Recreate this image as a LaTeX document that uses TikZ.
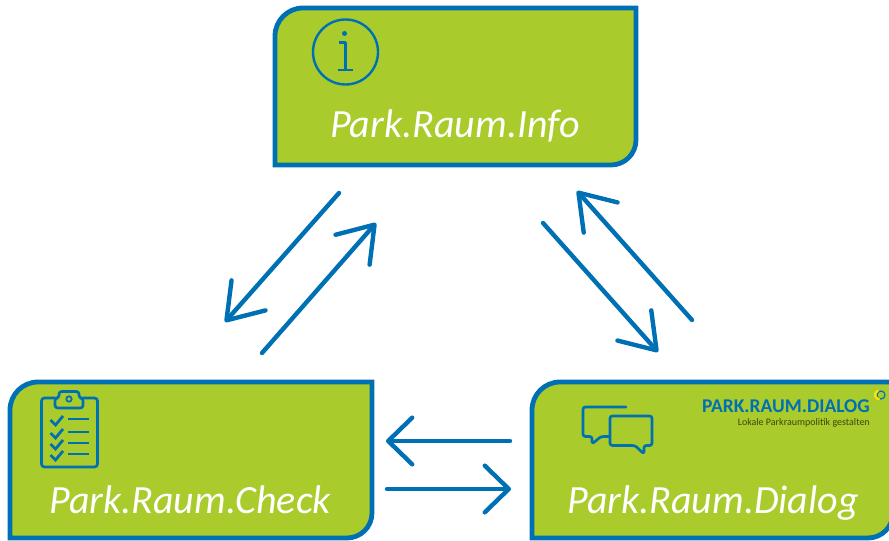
\documentclass[tikz,border=0pt]{standalone}
\usepackage{fontspec}
\setmainfont{Carlito}
\usetikzlibrary{arrows.meta}
\definecolor{grn}{HTML}{A9CB2B}
\definecolor{blu}{HTML}{0070B4}
\tikzset{
  x=0.75pt,y=-0.75pt,
  boxshape/.style={draw=blu,fill=grn,line width=3.6pt,line join=miter},
  title/.style={text=white,font=\fontsize{30}{32}\selectfont\itshape,inner sep=0pt,anchor=base},
  conn/.style={draw=blu,line width=3.3pt,line cap=round,-{Straight Barb[round,length=25pt,width=34pt,line width=3.3pt]}},
  connh/.style={draw=blu,line width=3.3pt,line cap=round,-{Straight Barb[round,length=18pt,width=35pt,line width=3.3pt]}},
  icon/.style={draw=blu,line width=2pt,line join=round,line cap=round},
  iconthin/.style={draw=blu,line width=1.8pt,line join=round},
}
\newcommand{\tlbrbox}[4]{%
  \draw[boxshape] (#1+28,#2) -- (#3,#2) -- (#3,#4-25) arc[start angle=0,end angle=-90,radius=25*0.75pt] -- (#1,#4) -- (#1,#2+28) arc[start angle=180,end angle=90,radius=28*0.75pt] -- cycle;}
\begin{document}
\begin{tikzpicture}
\useasboundingbox (0,0) rectangle (889,541);
\begin{scope}
\clip (0,0) rectangle (889,541);
\tlbrbox{275}{8}{636}{165}
\tlbrbox{10}{382}{372}{538}
\tlbrbox{532}{382}{893}{538}
% info icon
\draw[iconthin] (345.5,52) circle[radius=32.5*0.75pt];
\fill[blu] (344.5,33.5) circle[radius=2.5*0.75pt];
\draw[iconthin] (339,42.5) -- (345.5,42.5) -- (345.5,70);
\draw[iconthin] (338,70) -- (353,70);
% clipboard icon
\draw[icon,rounded corners=2.2pt] (55,398) -- (41.5,398) -- (41.5,467) -- (97.5,467) -- (97.5,398) -- (83,398);
\draw[icon,rounded corners=2pt] (55,408) -- (55,398) -- (59,398) -- (59,391.5) -- (79,391.5) -- (79,398) -- (83,398) -- (83,408) -- cycle;
\draw[blu,line width=1.3pt] (69,399) circle[radius=2.7*0.75pt];
\foreach \yy in {419,432,443,454}{
  \draw[blu,line width=2.1pt] (50.5,\yy+1) -- (55.5,\yy+6) -- (63,\yy-3);
  \draw[blu,line width=2.1pt] (68,\yy) -- (89,\yy);
}
% speech icon
\draw[icon,rounded corners=1.8pt] (626,407) -- (583,407) -- (583,436.5) -- (592,436.5) -- (592,444) -- (601,436.5) -- (609,436.5);
\draw[icon,fill=grn,rounded corners=1.8pt] (610,416) -- (652,416) -- (652,445.5) -- (644,445.5) -- (644,454) -- (635,445.5) -- (610,445.5) -- cycle;
% logo
\node[inner sep=0pt,anchor=base east,text=blu,font=\fontsize{14.6}{15}\selectfont\bfseries] (logo) at (870,413) {PARK.RAUM.DIALOG};
\node[inner sep=0pt,anchor=base east,text=black!65!grn,font=\fontsize{7.5}{8}\selectfont] (logosub) at (870,426) {Lokale Parkraumpolitik gestalten};
\draw[blu,line width=0.9pt] (881,395) circle[radius=4*0.75pt];
\draw[yellow!85!orange,line width=1.8pt] (878,390.5) arc[start angle=110,end angle=270,radius=4.5*0.75pt];
% titles
\node[title] (tinfo) at (455,138) {Park.Raum.Info};
\node[title] (tcheck) at (190,513) {Park.Raum.Check};
\node[title] (tdialog) at (713,513) {Park.Raum.Dialog};
\end{scope}
% connector ends
\coordinate (a1) at (339,193); \coordinate (a2) at (225,322);
\coordinate (b1) at (262,353); \coordinate (b2) at (376,223);
\coordinate (c1) at (543,223); \coordinate (c2) at (658,352);
\coordinate (d1) at (692,320); \coordinate (d2) at (577,191);
\coordinate (e1) at (510,441); \coordinate (e2) at (386,441);
\coordinate (f1) at (387,489); \coordinate (f2) at (511,489);
\draw[conn] (a1) -- (a2);
\draw[conn] (b1) -- (b2);
\draw[conn] (c1) -- (c2);
\draw[conn] (d1) -- (d2);
\draw[connh] (e1) -- (e2);
\draw[connh] (f1) -- (f2);
\end{tikzpicture}
\end{document}
